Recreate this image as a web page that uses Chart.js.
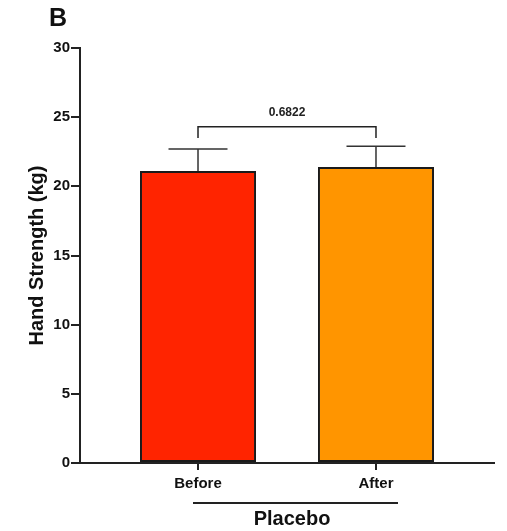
<!DOCTYPE html>
<html>
<head>
<meta charset="utf-8">
<script src="https://cdn.jsdelivr.net/npm/chart.js@4"></script>
<style>
  html, body { margin: 0; padding: 0; background: #fff; }
  #wrap { position: relative; width: 507px; height: 531px; }
</style>
</head>
<body>
<div id="wrap"><canvas id="chart" width="507" height="531"></canvas></div>
<script>
// Data
const categories = ['Before', 'After'];
const means = [21.1, 21.4];
const errors = [1.6, 1.5];
const barColors = ['#FF2400', '#FF9500'];
const yTicks = [0, 5, 10, 15, 20, 25, 30];
const pValue = '0.6822';
const bracketLevel = 24.3;
const bracketDrop = 0.8;
const groupLabel = 'Placebo';
const panelLabel = 'B';

const FONT = 'Liberation Sans, Arial, Helvetica, sans-serif';

// Error bars, significance bracket and group label
const annotations = {
  id: 'annotations',
  afterDatasetsDraw(chart) {
    const ctx = chart.ctx;
    const xs = chart.scales.x;
    const ys = chart.scales.y;
    const bars = chart.getDatasetMeta(0).data;

    ctx.save();
    ctx.strokeStyle = '#333';
    ctx.lineWidth = 1.5;
    bars.forEach((bar, i) => {
      const top = ys.getPixelForValue(means[i] + errors[i]);
      ctx.beginPath();
      ctx.moveTo(bar.x, bar.y);
      ctx.lineTo(bar.x, top);
      ctx.moveTo(bar.x - 29.5, top);
      ctx.lineTo(bar.x + 29.5, top);
      ctx.stroke();
    });

    // bracket
    const x1 = xs.getPixelForValue(1);
    const x2 = xs.getPixelForValue(2);
    const yb = ys.getPixelForValue(bracketLevel);
    const ye = ys.getPixelForValue(bracketLevel - bracketDrop);
    ctx.strokeStyle = '#222';
    ctx.lineWidth = 1.5;
    ctx.beginPath();
    ctx.moveTo(x1, ye);
    ctx.lineTo(x1, yb);
    ctx.lineTo(x2, yb);
    ctx.lineTo(x2, ye);
    ctx.stroke();
    ctx.fillStyle = '#222';
    ctx.font = 'bold 12px ' + FONT;
    ctx.textAlign = 'center';
    ctx.textBaseline = 'middle';
    ctx.fillText(pValue, (x1 + x2) / 2, yb - 14);

    // group line + label
    ctx.lineWidth = 2;
    ctx.beginPath();
    ctx.moveTo(x1 - 5, 503);
    ctx.lineTo(x2 + 22, 503);
    ctx.stroke();
    ctx.font = 'bold 20px ' + FONT;
    ctx.fillStyle = '#111';
    ctx.fillText(groupLabel, 292, 519);

    // panel letter
    ctx.font = 'bold 25px ' + FONT;
    ctx.textAlign = 'left';
    ctx.fillText(panelLabel, 49, 19);
    ctx.restore();
  }
};

new Chart(document.getElementById('chart'), {
  type: 'bar',
  data: {
    datasets: [{
      data: means.map((v, i) => ({ x: i + 1, y: v })),
      backgroundColor: barColors,
      borderColor: '#1a1a1a',
      borderWidth: 2,
      borderSkipped: false,
      barPercentage: 0.652,
      categoryPercentage: 1
    }]
  },
  options: {
    responsive: false,
    animation: false,
    layout: { padding: { top: 48, right: 13, bottom: 0, left: 0 } },
    plugins: { legend: { display: false }, tooltip: { enabled: false } },
    scales: {
      x: {
        type: 'linear',
        offset: false,
        min: 0.337,
        max: 2.663,
        afterBuildTicks: (scale) => { scale.ticks = categories.map((c, i) => ({ value: i + 1 })); },
        afterFit: (scale) => { scale.height = 68; },
        ticks: {
          callback: (v) => categories[v - 1] || '',
          color: '#111',
          font: { family: FONT, size: 15, weight: 'bold' },
          padding: 5,
          maxRotation: 0
        },
        grid: { offset: false, drawOnChartArea: false, drawTicks: true, tickLength: 7, color: '#222', lineWidth: 2 },
        border: { display: true, color: '#222', width: 2 }
      },
      y: {
        min: 0,
        max: 30,
        afterBuildTicks: (scale) => { scale.ticks = yTicks.map(v => ({ value: v })); },
        afterFit: (scale) => { scale.width = 80; },
        ticks: {
          color: '#111',
          font: { family: FONT, size: 15, weight: 'bold' },
          padding: 1
        },
        grid: { drawOnChartArea: false, drawTicks: true, tickLength: 9, color: '#222', lineWidth: 2 },
        border: { display: true, color: '#222', width: 2 },
        title: {
          display: true,
          text: 'Hand Strength (kg)',
          color: '#111',
          font: { family: FONT, size: 20, weight: 'bold' },
          padding: { top: 25, bottom: 0 }
        }
      }
    }
  },
  plugins: [annotations]
});
</script>
</body>
</html>
